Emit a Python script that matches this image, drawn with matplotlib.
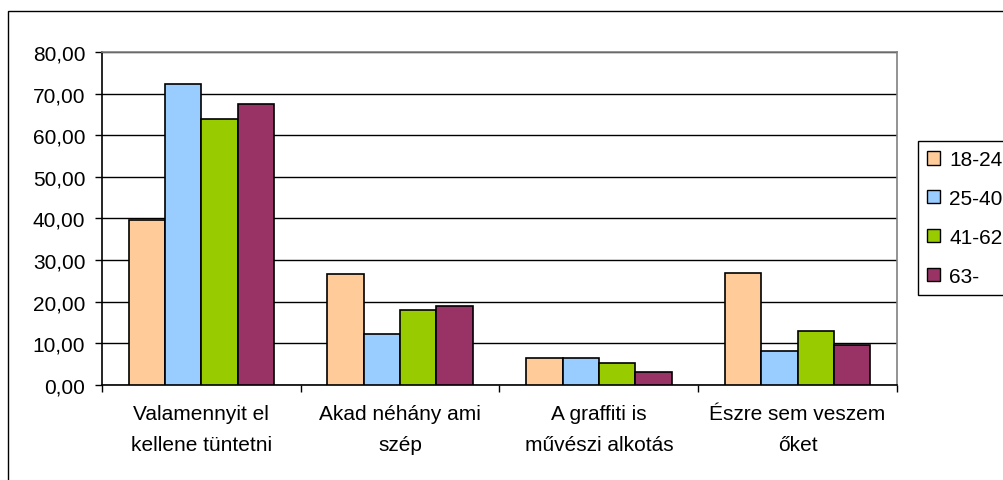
import matplotlib.pyplot as plt
import matplotlib.patches as mpatches
import numpy as np

plt.rcParams['font.family'] = ['Liberation Sans', 'DejaVu Sans']

# data
categories = ["Valamennyit el\nkellene tüntetni", "Akad néhány ami\nszép",
              "A graffiti is\nművészi alkotás", "Észre sem veszem\nőket"]
series_names = ["18-24", "25-40", "41-62", "63-"]
v_18_24 = [39.7, 26.7, 6.6, 26.8]
v_25_40 = [72.4, 12.3, 6.6, 8.1]
v_41_62 = [63.8, 18.0, 5.2, 13.0]
v_63 = [67.5, 19.0, 3.2, 9.5]
colors = ['#FFCC99', '#99CCFF', '#99CC00', '#993366']
yticks = np.arange(0, 81, 10)

W, H = 1004, 481
FS = 15
fig = plt.figure(figsize=[W / 100, H / 100], dpi=100)

# outer chart border
fig.patches.append(mpatches.Rectangle((8 / W, -0.2), 1.2, 1.2 - 12 / H,
                                      transform=fig.transFigure, fill=False,
                                      edgecolor='black', linewidth=1))

ax = fig.add_axes([102 / W, 1 - 386 / H, 795 / W, 333 / H])

x = np.arange(len(categories))
bw = 0.183
all_vals = [v_18_24, v_25_40, v_41_62, v_63]
handles = []
for i, vals in enumerate(all_vals):
    ax.bar(x + (i - 1.5) * bw, vals, width=bw, color=colors[i],
           edgecolor='black', linewidth=1.2, zorder=3)
    handles.append(mpatches.Patch(facecolor=colors[i], edgecolor='black',
                                  linewidth=1, label=series_names[i]))

ax.set_xlim(-0.5, len(categories) - 0.5)
ax.set_ylim(0, 80)
ax.set_yticks(yticks)
ax.set_yticklabels(['{:.2f}'.format(v).replace('.', ',') for v in yticks], fontsize=FS)
ax.yaxis.grid(True, color='black', linewidth=1, zorder=0)
ax.tick_params(axis='y', direction='out', length=5, width=1, pad=7)

# category boundary ticks on x axis
ax.set_xticks(np.arange(-0.5, len(categories), 1.0))
ax.set_xticklabels([])
ax.set_xticks(x, minor=True)
ax.set_xticklabels(categories, minor=True, fontsize=FS, linespacing=1.75)
ax.tick_params(axis='x', which='major', direction='out', length=5, width=1)
ax.tick_params(axis='x', which='minor', length=0, pad=14)

ax.spines['left'].set_color('black')
ax.spines['bottom'].set_color('black')
ax.spines['top'].set_color('#808080')
ax.spines['right'].set_color('#808080')
for s in ax.spines.values():
    s.set_linewidth(1.2)

leg = fig.legend(handles=handles, loc='upper left',
                 bbox_to_anchor=(918 / W, 1 - 142 / H), borderaxespad=0,
                 fontsize=FS, handlelength=0.6, handleheight=0.6,
                 handletextpad=0.45, labelspacing=0.95, borderpad=0.45,
                 fancybox=False, framealpha=1, edgecolor='black')
leg.get_frame().set_linewidth(1)

fig.savefig('out.png', dpi=100)
